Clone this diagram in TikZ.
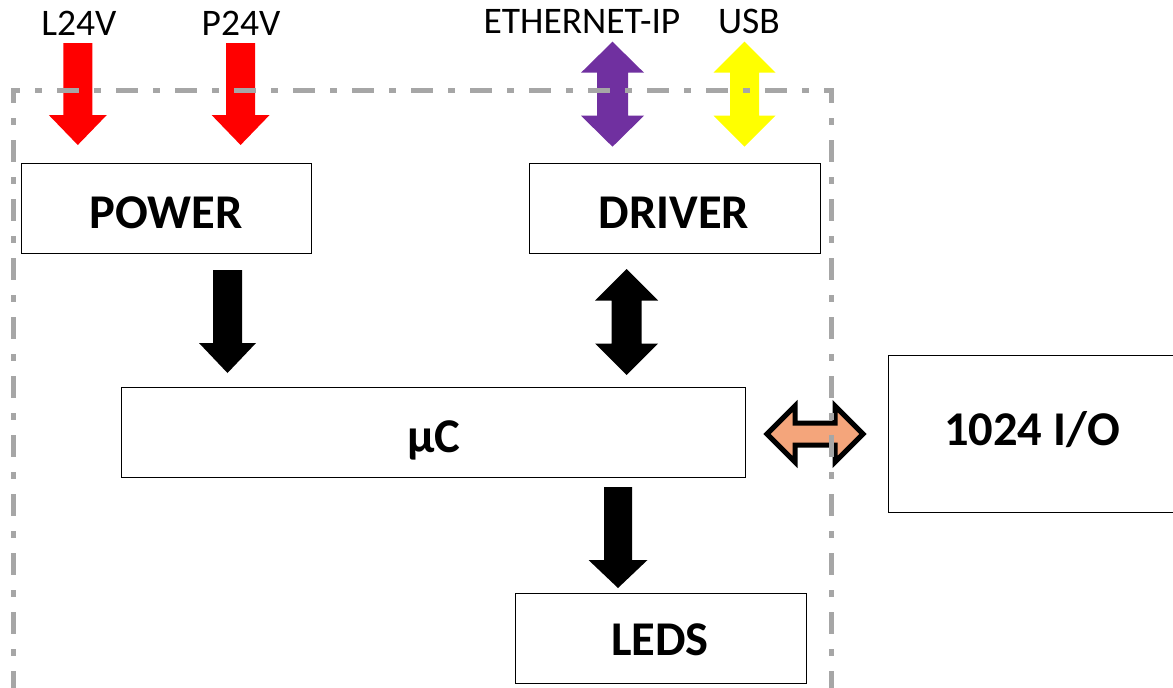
\documentclass[tikz,border=0pt]{standalone}
\usepackage{fontspec}
\setmainfont{Carlito}
\definecolor{framegray}{HTML}{A6A6A6}
\definecolor{arrred}{HTML}{FF0000}
\definecolor{arrpurple}{HTML}{7030A0}
\definecolor{arryellow}{HTML}{FFFF00}
\definecolor{orangefill}{HTML}{F4A57B}
% xc, ytop, ytip, shaft half, head half, head length, colour
\newcommand\downblock[7]{%
  \fill[#7] ({#1-#4},#2) -- ({#1+#4},#2) -- ({#1+#4},{#3-#6}) -- ({#1+#5},{#3-#6}) -- (#1,#3)
    -- ({#1-#5},{#3-#6}) -- ({#1-#4},{#3-#6}) -- cycle;}
% xc, ytop, ybottom, shaft half, head half, head length, colour
\newcommand\vdoubleblock[7]{%
  \fill[#7] (#1,#2) -- ({#1+#5},{#2+#6}) -- ({#1+#4},{#2+#6}) -- ({#1+#4},{#3-#6})
    -- ({#1+#5},{#3-#6}) -- (#1,#3) -- ({#1-#5},{#3-#6}) -- ({#1-#4},{#3-#6})
    -- ({#1-#4},{#2+#6}) -- ({#1-#5},{#2+#6}) -- cycle;}
\begin{document}
\begin{tikzpicture}[x=1pt,y=-1pt,
  blockbox/.style={draw=black, line width=1.3pt, fill=white, inner sep=0pt, anchor=north west},
  boldlabel/.style={font=\fontsize{48.5}{58}\selectfont\bfseries, anchor=base, inner sep=0pt},
  toplabel/.style={font=\fontsize{37.5}{45}\selectfont, anchor=base, inner sep=0pt},
  frameline/.style={draw=framegray, line width=5pt, dash pattern=on 22pt off 15pt on 7pt off 15pt}]
\useasboundingbox (0,0) rectangle (1173,688);
\fill[white] (0,0) rectangle (1173,688);

% boxes
\node[blockbox, minimum width=290, minimum height=90] (power) at (21,163) {};
\node[blockbox, minimum width=291, minimum height=90] (driver) at (529,163) {};
\node[blockbox, minimum width=624, minimum height=90] (uc) at (121,387) {};
\node[blockbox, minimum width=291, minimum height=90] (leds) at (515,593) {};
\node[blockbox, minimum width=320, minimum height=157] (io) at (888,355) {};

% box texts
\node[boldlabel] (tpower) at (166,228) {POWER};
\node[boldlabel] (tdriver) at (674,228) {DRIVER};
\node[boldlabel] (tuc) at (434,452) {µC};
\node[boldlabel] (tleds) at (660,655) {LEDS};
\node[boldlabel] (tio) at (1032,445) {1024 I/O};

% top labels
\node[toplabel] (tl24) at (79,35) {L24V};
\node[toplabel] (tp24) at (241,35) {P24V};
\node[toplabel] (teth) at (582,34) {ETHERNET-IP};
\node[toplabel] (tusb) at (749,34) {USB};

% input arrows
\downblock{77.8}{43}{145}{14.5}{29}{30}{arrred}
\downblock{240.6}{43}{145}{14.5}{29}{30}{arrred}
\vdoubleblock{612.5}{41.7}{146.7}{15.5}{31.5}{31}{arrpurple}
\vdoubleblock{744.5}{41.7}{146.7}{14.5}{31}{31}{arryellow}

% internal arrows
\downblock{227.5}{270}{373}{14.5}{28.5}{30}{black}
\vdoubleblock{626.5}{269}{375}{15}{31.5}{31.5}{black}
\downblock{618}{487}{588}{14}{29.5}{28}{black}

% orange double arrow
\draw[line width=5pt, fill=orangefill, miter limit=10]
  (767,434) -- (795,406) -- (795,423) -- (835,423) -- (835,406) -- (863,434)
  -- (835,462) -- (835,445) -- (795,445) -- (795,462) -- cycle;

% dash-dot frame
\draw[frameline, dash phase=13pt] (11,90) -- (833.5,90);
\draw[frameline, dash phase=9pt] (13.5,90) -- (13.5,700);
\draw[frameline, dash phase=9pt] (831,90) -- (831,700);
\end{tikzpicture}
\end{document}
